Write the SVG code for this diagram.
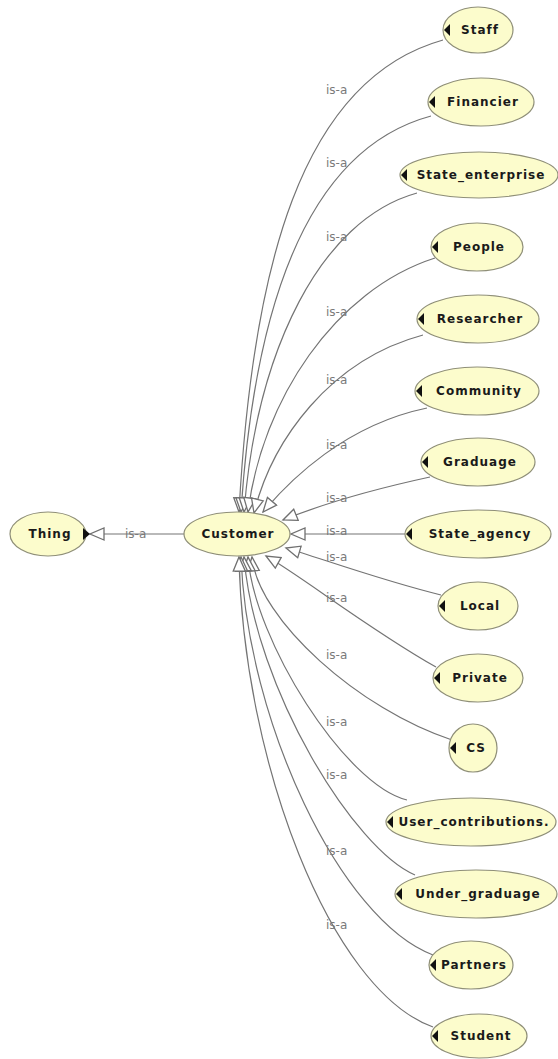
<svg xmlns="http://www.w3.org/2000/svg" width="558" height="1059" viewBox="0 0 558 1059">
<defs>
<marker id="hollow" markerUnits="userSpaceOnUse" markerWidth="17" markerHeight="15" viewBox="0 0 17 15" refX="15" refY="7.5" orient="auto">
<path d="M1,1.5 L15,7.5 L1,13.5 z" fill="#ffffff" stroke="#707070" stroke-width="1.3"/>
</marker>
</defs>
<style>
.bg{fill:#ffffff}
.node ellipse{fill:#fcfccc;stroke:#8f8f78;stroke-width:1.2}
.node text{font-family:"DejaVu Sans",Verdana,sans-serif;font-weight:bold;font-size:12px;letter-spacing:1px;fill:#1a1a1a;text-anchor:middle}
.tri{fill:#111111}
.edge{fill:none;stroke:#747474;stroke-width:1.2;marker-end:url(#hollow)}
.lbl{font-family:"DejaVu Sans",Verdana,sans-serif;font-size:12px;fill:#7a7a7a}
</style>
<rect class="bg" x="0" y="0" width="558" height="1059"/>
<g id="connectors">
<path class="edge" d="M185,534 L90,534"/>
<path class="edge" d="M443,40 C300,80 252,270 239,512"/>
<path class="edge" d="M431,116 C305,150 254,310 241,512"/>
<path class="edge" d="M417,193 C320,220 257,350 244,512"/>
<path class="edge" d="M435,258 C335,290 262,400 248,512"/>
<path class="edge" d="M423,335 C330,360 272,440 254,513"/>
<path class="edge" d="M427,408 C345,425 290,480 263,512"/>
<path class="edge" d="M430,477 C370,490 320,505 283,520"/>
<path class="edge" d="M405,534 L291,534"/>
<path class="edge" d="M441,595 C380,580 320,558 286,548"/>
<path class="edge" d="M436,667 C370,630 300,575 266,556"/>
<path class="edge" d="M452,740 C360,710 258,620 252,557"/>
<path class="edge" d="M407,800 C345,785 254,640 248,557"/>
<path class="edge" d="M415,875 C355,850 255,690 244,557"/>
<path class="edge" d="M433,955 C340,920 247,720 241,557"/>
<path class="edge" d="M433,1027 C330,990 243,760 239,557"/>
<text class="lbl" x="125" y="538">is-a</text>
<text class="lbl" x="326" y="94">is-a</text>
<text class="lbl" x="326" y="167">is-a</text>
<text class="lbl" x="326" y="241">is-a</text>
<text class="lbl" x="326" y="316">is-a</text>
<text class="lbl" x="326" y="384">is-a</text>
<text class="lbl" x="326" y="449">is-a</text>
<text class="lbl" x="326" y="502">is-a</text>
<text class="lbl" x="326" y="535">is-a</text>
<text class="lbl" x="326" y="561">is-a</text>
<text class="lbl" x="326" y="602">is-a</text>
<text class="lbl" x="326" y="659">is-a</text>
<text class="lbl" x="326" y="726">is-a</text>
<text class="lbl" x="326" y="779">is-a</text>
<text class="lbl" x="326" y="855">is-a</text>
<text class="lbl" x="326" y="929">is-a</text>
</g>
<g id="node-thing" class="node"><ellipse cx="48" cy="534" rx="38" ry="22"/><text x="50" y="538">Thing</text><path class="tri" d="M90,534 L83,528 L83,540 z"/></g>
<g id="node-customer" class="node"><ellipse cx="237" cy="534" rx="53" ry="22"/><text x="238" y="538">Customer</text></g>
<g id="node-staff" class="node"><ellipse cx="478" cy="30" rx="35" ry="23"/><text x="480" y="34">Staff</text><path class="tri" d="M444,30 L450,24 L450,36 z"/></g>
<g id="node-financier" class="node"><ellipse cx="481" cy="102" rx="53" ry="24"/><text x="483" y="106">Financier</text><path class="tri" d="M429,102 L435,96 L435,108 z"/></g>
<g id="node-state-enterprise" class="node"><ellipse cx="479" cy="175" rx="79" ry="23"/><text x="481" y="179">State_enterprise</text><path class="tri" d="M401,175 L407,169 L407,181 z"/></g>
<g id="node-people" class="node"><ellipse cx="477" cy="247" rx="46" ry="24"/><text x="479" y="251">People</text><path class="tri" d="M432,247 L438,241 L438,253 z"/></g>
<g id="node-researcher" class="node"><ellipse cx="478" cy="319" rx="61" ry="24"/><text x="480" y="323">Researcher</text><path class="tri" d="M418,319 L424,313 L424,325 z"/></g>
<g id="node-community" class="node"><ellipse cx="477" cy="391" rx="62" ry="24"/><text x="479" y="395">Community</text><path class="tri" d="M416,391 L422,385 L422,397 z"/></g>
<g id="node-graduage" class="node"><ellipse cx="478" cy="462" rx="57" ry="24"/><text x="480" y="466">Graduage</text><path class="tri" d="M422,462 L428,456 L428,468 z"/></g>
<g id="node-state-agency" class="node"><ellipse cx="478" cy="534" rx="73" ry="24"/><text x="480" y="538">State_agency</text><path class="tri" d="M406,534 L412,528 L412,540 z"/></g>
<g id="node-local" class="node"><ellipse cx="478" cy="606" rx="40" ry="24"/><text x="480" y="610">Local</text><path class="tri" d="M439,606 L445,600 L445,612 z"/></g>
<g id="node-private" class="node"><ellipse cx="478" cy="678" rx="45" ry="24"/><text x="480" y="682">Private</text><path class="tri" d="M434,678 L440,672 L440,684 z"/></g>
<g id="node-cs" class="node"><ellipse cx="473" cy="748" rx="24" ry="24"/><text x="476" y="752">CS</text><path class="tri" d="M450,748 L456,742 L456,754 z"/></g>
<g id="node-user-contributions" class="node"><ellipse cx="471" cy="822" rx="85" ry="24"/><text x="474" y="826">User_contributions.</text><path class="tri" d="M387,822 L393,816 L393,828 z"/></g>
<g id="node-under-graduage" class="node"><ellipse cx="476" cy="894" rx="81" ry="24"/><text x="478" y="898">Under_graduage</text><path class="tri" d="M396,894 L402,888 L402,900 z"/></g>
<g id="node-partners" class="node"><ellipse cx="471" cy="965" rx="42" ry="24"/><text x="474" y="969">Partners</text><path class="tri" d="M430,965 L436,959 L436,971 z"/></g>
<g id="node-student" class="node"><ellipse cx="479" cy="1036" rx="48" ry="22"/><text x="481" y="1040">Student</text><path class="tri" d="M432,1036 L438,1030 L438,1042 z"/></g>
</svg>
